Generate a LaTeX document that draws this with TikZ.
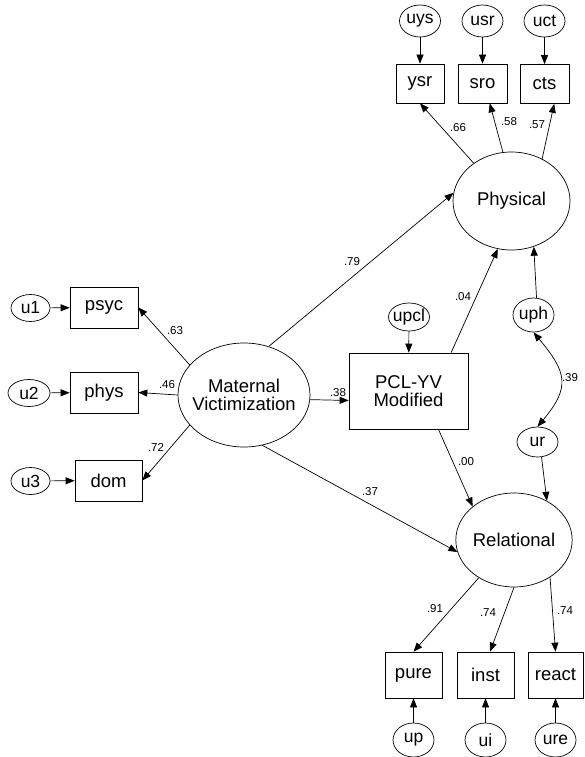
\documentclass[tikz,border=0pt]{standalone}
\usepackage{fontspec}
\setmainfont{Liberation Sans}
\usepackage{tikz}
\usetikzlibrary{arrows.meta,shapes.geometric}

\begin{document}
\begin{tikzpicture}[x=1pt,y=1pt,line width=0.7pt,
    latent/.style={draw,ellipse,inner sep=0pt,align=center,font=\fontsize{18.5}{17.5}\selectfont},
    obs/.style={draw,rectangle,inner sep=0pt,align=center,minimum width=49pt,minimum height=39pt,font=\fontsize{18.5}{17.5}\selectfont},
    err/.style={draw,ellipse,inner sep=0pt,inner xsep=-2pt,minimum width=41pt,minimum height=31pt,font=\fontsize{17.5}{18}\selectfont},
    coef/.style={inner sep=0pt,font=\fontsize{11.5}{12}\selectfont},
    regr/.style={-{Triangle[length=9pt,width=7pt]}},
    cov/.style={{Triangle[length=9pt,width=7pt]}-{Triangle[length=9pt,width=7pt]}}]
\useasboundingbox (0,0) rectangle (584,-757);

% latent variables
\node[latent,minimum width=117pt,minimum height=98pt] (phy) at (511.5,-201) {Physical};
\node[latent,minimum width=132pt,minimum height=104pt,inner xsep=-7.5pt] (mv) at (244,-395) {Maternal\\Victimization};
\node[latent,minimum width=114pt,minimum height=94pt] (rel) at (514,-540) {Relational};
\node[obs,minimum width=119pt,minimum height=76pt] (pcl) at (408.5,-391) {PCL-YV\\Modified};

% indicators
\node[obs,minimum width=48pt] (ysr) at (420,-83.5) {ysr};
\node[obs] (sro) at (482.5,-83.5) {sro};
\node[obs] (cts) at (544.5,-84) {cts};
\node[obs,minimum width=68pt,minimum height=41pt] (psyc) at (104,-307.5) {psyc};
\node[obs,minimum width=68pt,minimum height=41pt] (phys) at (104,-392.5) {phys};
\node[obs,minimum width=67pt,minimum height=41pt] (dom) at (108.5,-480.5) {dom};
\node[obs,minimum width=57pt,minimum height=46pt] (pure) at (413.5,-675) {pure};
\node[obs,minimum width=57pt,minimum height=46pt] (inst) at (485.5,-675) {inst};
\node[obs,minimum width=55pt,minimum height=46pt] (react) at (555.5,-675) {react};

% errors
\node[err,minimum height=32pt] (uys) at (420,-21) {uys};
\node[err,minimum height=32pt] (usr) at (482.5,-21) {usr};
\node[err,minimum height=32pt] (uct) at (544.5,-21) {uct};
\node[err,minimum width=39pt,minimum height=27pt] (u1) at (30.5,-308) {u1};
\node[err,minimum width=42pt,minimum height=27pt] (u2) at (29,-393) {u2};
\node[err,minimum width=39pt,minimum height=27pt] (u3) at (30.5,-481) {u3};
\node[err,minimum height=28pt] (upcl) at (409,-317) {upcl};
\node[err,minimum height=34pt] (uph) at (533.5,-315) {uph};
\node[err,minimum height=30pt] (ur) at (537.5,-442) {ur};
\node[err,minimum height=34pt] (up) at (413.5,-740) {up};
\node[err,minimum height=34pt] (ui) at (485.5,-740) {ui};
\node[err,minimum height=34pt] (ure) at (555.5,-740) {ure};

% paths
\draw[regr] (uys) -- (ysr);
\draw[regr] (usr) -- (sro);
\draw[regr] (uct) -- (cts);
\draw[regr] (phy.135.4) -- (ysr.south);
\draw[regr] (phy.100) -- (sro.290);
\draw[regr] (phy.54) -- (cts.296);
\draw[regr] (u1) -- (psyc);
\draw[regr] (u2) -- (phys);
\draw[regr] (u3) -- (dom);
\draw[regr] (mv.151) -- (psyc.east);
\draw[regr] (mv.west) -- (phys.east);
\draw[regr] (mv.209) -- (dom.east);
\draw[regr] (mv.-4.8) -- (pcl.189);
\draw[regr] (mv.63) -- (phy.172);
\draw[regr] (mv.290) -- (rel.192);
\draw[regr] (upcl) -- (pcl);
\draw[regr] (pcl.42.5) -- (phy.254.6);
\draw[regr] (pcl.308) -- (rel.141);
\draw[regr] (uph.80) -- (phy.296.6);
\draw[regr] (ur.285) -- (rel.50.6);
\draw[cov] (uph.south) to[out=-50,in=50,looseness=1.4] (ur.north);
\draw[regr] (rel.227) -- (pure.north);
\draw[regr] (rel.south) -- (inst.79);
\draw[regr] (rel.314) -- (react.north);
\draw[regr] (up) -- (pure);
\draw[regr] (ui) -- (inst);
\draw[regr] (ure) -- (react);

% estimates
\node[coef] (e66) at (458,-128) {.66};
\node[coef] (e58) at (509,-122) {.58};
\node[coef] (e57) at (537,-125) {.57};
\node[coef] (e63) at (175,-331) {.63};
\node[coef] (e46) at (167,-385) {.46};
\node[coef] (e72) at (156,-447) {.72};
\node[coef] (e38) at (338,-393) {.38};
\node[coef] (e79) at (352,-262) {.79};
\node[coef] (e04) at (463,-297) {.04};
\node[coef] (e00) at (466,-462) {.00};
\node[coef] (e39) at (570,-378) {.39};
\node[coef] (e37) at (370,-492) {.37};
\node[coef] (e91) at (435,-609) {.91};
\node[coef] (e74a) at (488,-613) {.74};
\node[coef] (e74b) at (565,-611) {.74};
\end{tikzpicture}
\end{document}
